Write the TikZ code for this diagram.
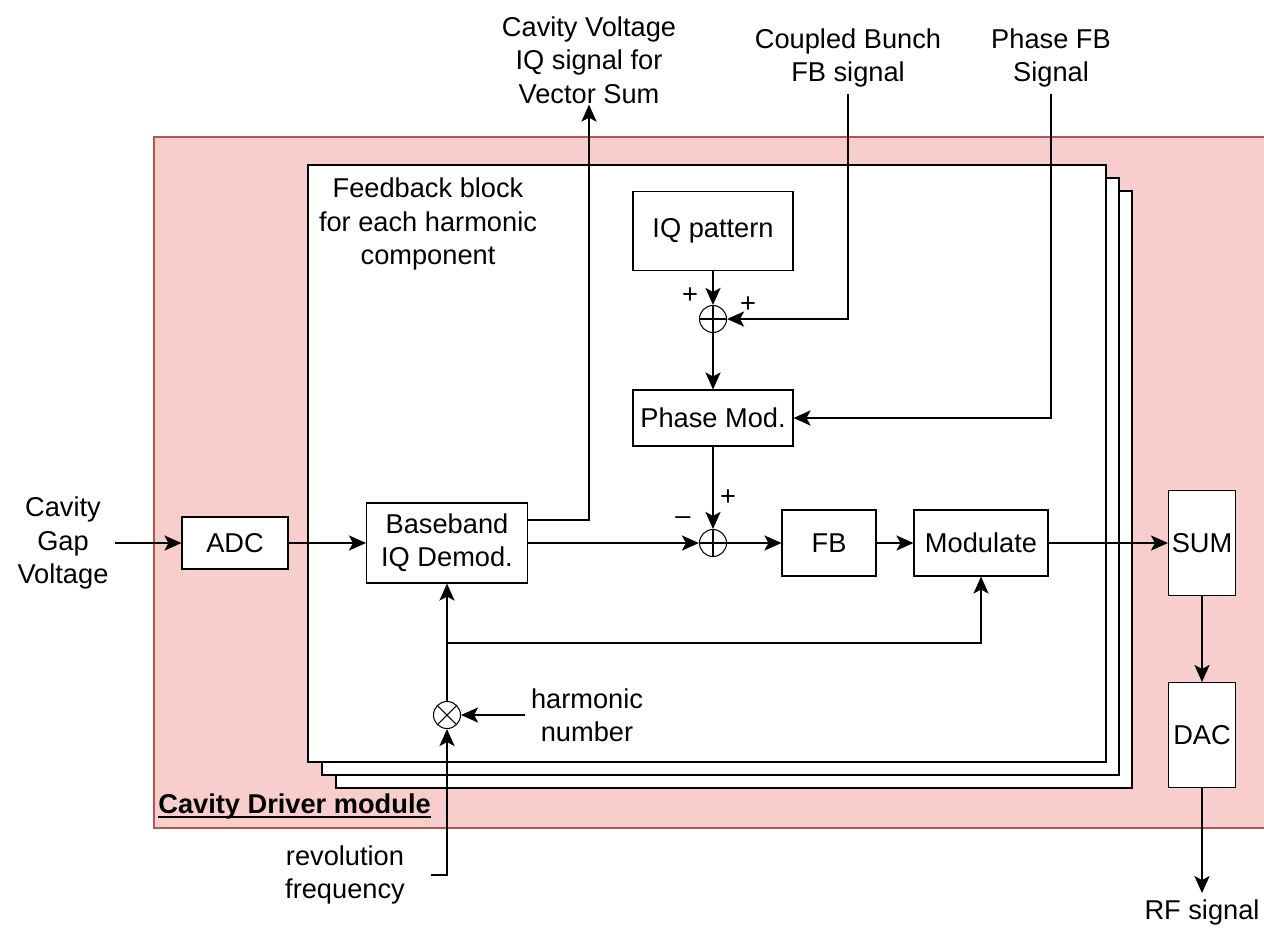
\documentclass[tikz,border=0pt]{standalone}
\usepackage{fontspec}
\setmainfont{Liberation Sans}
\usetikzlibrary{arrows.meta}
\definecolor{modfill}{HTML}{F8CECC}
\definecolor{modline}{HTML}{B85450}

\begin{document}
\begin{tikzpicture}[x=0.02cm,y=-0.02cm,
  every node/.style={font=\fontsize{15.5}{19}\selectfont},
  blk/.style={draw,fill=white,line width=0.6pt,inner sep=0pt,align=center},
  junc/.style={circle,draw,fill=white,minimum size=0.54cm,inner sep=0pt,line width=0.6pt},
  sumj/.style={junc,path picture={\draw[line width=0.6pt] (path picture bounding box.north) -- (path picture bounding box.south) (path picture bounding box.west) -- (path picture bounding box.east);}},
  mulj/.style={junc,path picture={\draw[line width=0.6pt] (path picture bounding box.north west) -- (path picture bounding box.south east) (path picture bounding box.north east) -- (path picture bounding box.south west);}},
  sig/.style={line width=1.45pt,-{Stealth[length=0.34cm,width=0.3cm,inset=0.08cm]}},
  lbl/.style={align=center}]
\useasboundingbox (0,0) rectangle (1264,927);

% Cavity driver module and stacked feedback blocks
\draw[modline,fill=modfill,line width=1pt] (154,137) rectangle (1290,828);
\draw[fill=white,line width=0.6pt] (336,191) rectangle (1132,788);
\draw[fill=white,line width=0.6pt] (322,178) rectangle (1119,775);
\draw[fill=white,line width=0.6pt] (308,165) rectangle (1106,762);
\node[anchor=west,inner sep=0pt,font=\fontsize{15.5}{19}\selectfont\bfseries] (title) at (158,806) {Cavity Driver module};
\draw[line width=1.3pt] ([yshift=-2.2pt]title.base west) -- ([yshift=-2.2pt]title.base east);
\node[lbl] (fbtxt) at (428,224) {Feedback block\\for each harmonic\\component};

% Blocks
\node[blk,minimum width=2.12cm,minimum height=1.04cm] (adc) at (235,543) {ADC};
\node[blk,minimum width=3.22cm,minimum height=1.6cm] (demod) at (447,543) {Baseband\\IQ Demod.};
\node[blk,minimum width=3.2cm,minimum height=1.58cm] (iqpat) at (713,231) {IQ pattern};
\node[blk,minimum width=3.2cm,minimum height=1.12cm] (phmod) at (713,418) {Phase Mod.};
\node[blk,minimum width=1.88cm,minimum height=1.32cm] (fb) at (829,543) {FB};
\node[blk,minimum width=2.68cm,minimum height=1.32cm] (modul) at (981,543) {Modulate};
\node[blk,minimum width=1.34cm,minimum height=2.1cm] (sumb) at (1202,543) {SUM};
\node[blk,minimum width=1.34cm,minimum height=2.1cm] (dac) at (1202,735) {DAC};

% Junctions
\node[sumj] (s1) at (713,319) {};
\node[sumj] (s2) at (713,543) {};
\node[mulj] (mix) at (447,715) {};
\node (p1) at (690,296) {+};
\node (p2) at (748,305) {+};
\node (p3) at (728,498) {+};
\node (m1) at (683,521) {--};

% Outside signals
\node[lbl] (gap) at (63,543) {Cavity\\Gap\\Voltage};
\node[lbl] (vsum) at (589,60) {Cavity Voltage\\IQ signal for\\Vector Sum};
\node[lbl] (cbfb) at (848,58) {Coupled Bunch\\FB signal};
\node[lbl] (phfb) at (1051,58) {Phase FB\\Signal};
\node[lbl] (harm) at (587,715) {harmonic\\number};
\node[lbl] (rev) at (345,875) {revolution\\frequency};
\node (rf) at (1202,912) {RF signal};
\coordinate (split) at (447,643);

% Connections
\draw[sig] (gap.east) -- (adc);
\draw[sig] (adc) -- (demod);
\draw[sig] ([yshift=0.46cm]demod.east) -| ([yshift=0.1cm]vsum.south);
\draw[sig] (demod) -- (s2);
\draw[sig] (iqpat) -- (s1);
\draw[sig] (cbfb.south) |- (s1.east);
\draw[sig] (s1) -- (phmod);
\draw[sig] (phfb.south) |- (phmod.east);
\draw[sig] (phmod) -- (s2);
\draw[sig] (s2) -- (fb);
\draw[sig] (fb) -- (modul);
\draw[sig] (modul) -- (sumb);
\draw[sig] (sumb) -- (dac);
\draw[sig] (dac) -- (rf.north);
\draw[sig] ([xshift=0.4cm]rev.east) -| (mix.south);
\draw[sig] (harm.west) -- (mix);
\draw[sig] (mix) -- (demod);
\draw[sig] (split) -| (modul.south);
\end{tikzpicture}
\end{document}
